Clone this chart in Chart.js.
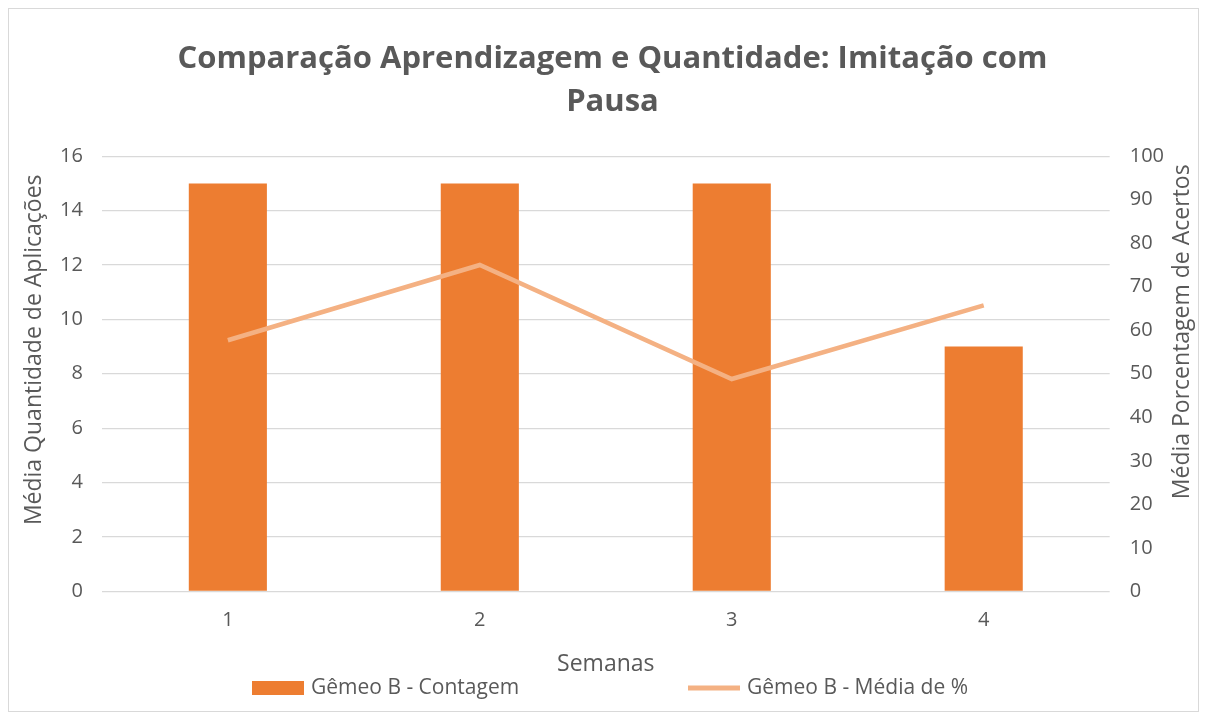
<!DOCTYPE html>
<html>
<head>
<meta charset="utf-8">
<script src="https://cdn.jsdelivr.net/npm/chart.js@4.4.1/dist/chart.umd.min.js"></script>
<style>
  html, body { margin: 0; padding: 0; background: #fff; }
  #wrap { width: 1207px; height: 720px; }
</style>
</head>
<body>
<div id="wrap"><canvas id="chart" width="1207" height="720"></canvas></div>
<script>
const weeks = ['1', '2', '3', '4'];
const countValues = [15, 15, 15, 9];
const percentValues = [57.7, 75, 48.8, 65.7];
const countLabel = 'Gêmeo B - Contagem';
const percentLabel = 'Gêmeo B - Média de %';
const titleLines = ['Comparação Aprendizagem e Quantidade: Imitação com', 'Pausa'];
const leftTitle = 'Média Quantidade de Aplicações';
const rightTitle = 'Média Porcentagem de Acertos';

const textColor = '#595959';
const fontFamily = '"Open Sans", "Noto Sans", sans-serif';
const axisTitleSize = 23;

// white background + thin frame around the whole chart
const frame = {
  id: 'frame',
  beforeDraw(chart) {
    const ctx = chart.ctx;
    ctx.save();
    ctx.fillStyle = '#fff';
    ctx.fillRect(0, 0, chart.width, chart.height);
    ctx.strokeStyle = '#D9D9D9';
    ctx.lineWidth = 1;
    ctx.strokeRect(8.5, 8.5, chart.width - 17, chart.height - 17);
    ctx.restore();
  }
};

// both y titles read bottom-to-top like in Excel (Chart.js turns the right one the other way)
const axisTitles = {
  id: 'axisTitles',
  afterDraw(chart) {
    const ctx = chart.ctx;
    const a = chart.chartArea;
    const mid = (a.top + a.bottom) / 2;
    ctx.save();
    ctx.font = axisTitleSize + 'px ' + fontFamily;
    ctx.fillStyle = textColor;
    ctx.textAlign = 'center';
    ctx.textBaseline = 'middle';
    [
      { text: leftTitle, x: a.left - 67, y: mid - 24 },
      { text: rightTitle, x: a.right + 73, y: mid - 42 }
    ].forEach(t => {
      ctx.save();
      ctx.translate(t.x, t.y);
      ctx.rotate(-Math.PI / 2);
      ctx.fillText(t.text, 0, 0);
      ctx.restore();
    });
    ctx.restore();
  }
};

// legend spaced like the Excel one
const spreadLegend = {
  id: 'spreadLegend',
  afterDraw(chart) {
    const ctx = chart.ctx;
    const y = 688;
    const items = [
      { ds: chart.data.datasets[0], x: 252 },
      { ds: chart.data.datasets[1], x: 688 }
    ];
    ctx.save();
    ctx.font = '21px ' + fontFamily;
    ctx.textBaseline = 'middle';
    items.forEach(it => {
      if (it.ds.type === 'line') {
        ctx.strokeStyle = it.ds.borderColor;
        ctx.lineWidth = 5;
        ctx.beginPath();
        ctx.moveTo(it.x, y);
        ctx.lineTo(it.x + 52, y);
        ctx.stroke();
      } else {
        ctx.fillStyle = it.ds.backgroundColor;
        ctx.fillRect(it.x, y - 7, 52, 14);
      }
      ctx.fillStyle = textColor;
      ctx.fillText(it.ds.label, it.x + 59, y);
    });
    ctx.restore();
  }
};

const tickFont = { family: fontFamily, size: 20 };

new Chart(document.getElementById('chart'), {
  data: {
    labels: weeks,
    datasets: [
      {
        type: 'bar',
        label: countLabel,
        data: countValues,
        backgroundColor: '#ED7D31',
        yAxisID: 'y',
        barPercentage: 0.31,
        categoryPercentage: 1,
        order: 1
      },
      {
        type: 'line',
        label: percentLabel,
        data: percentValues,
        borderColor: '#F4B183',
        borderWidth: 4.5,
        pointRadius: 0,
        tension: 0,
        yAxisID: 'y1',
        order: 0
      }
    ]
  },
  options: {
    responsive: false,
    animation: false,
    layout: { padding: { left: 41, right: 23, top: 38, bottom: 42 } },
    plugins: {
      legend: { display: false },
      tooltip: { enabled: false },
      title: {
        display: true,
        text: titleLines,
        color: textColor,
        font: { family: fontFamily, size: 31, weight: 'bold', lineHeight: 1.39 },
        padding: { top: 0, bottom: 32 }
      }
    },
    scales: {
      x: {
        grid: { display: false },
        border: { display: false },
        ticks: { color: textColor, font: tickFont, padding: 9 },
        title: { display: true, text: 'Semanas', color: textColor, font: { family: fontFamily, size: axisTitleSize }, padding: { top: 9, bottom: 0 } }
      },
      y: {
        position: 'left',
        min: 0,
        max: 16,
        ticks: { stepSize: 2, color: textColor, font: tickFont, padding: 19 },
        grid: { color: '#D9D9D9', lineWidth: 1.3, drawTicks: false },
        border: { display: false }
      },
      y1: {
        position: 'right',
        min: 0,
        max: 100,
        ticks: { stepSize: 10, color: textColor, font: tickFont, padding: 20 },
        grid: { display: false, drawTicks: false },
        border: { display: false }
      }
    }
  },
  plugins: [frame, axisTitles, spreadLegend]
});
</script>
</body>
</html>
